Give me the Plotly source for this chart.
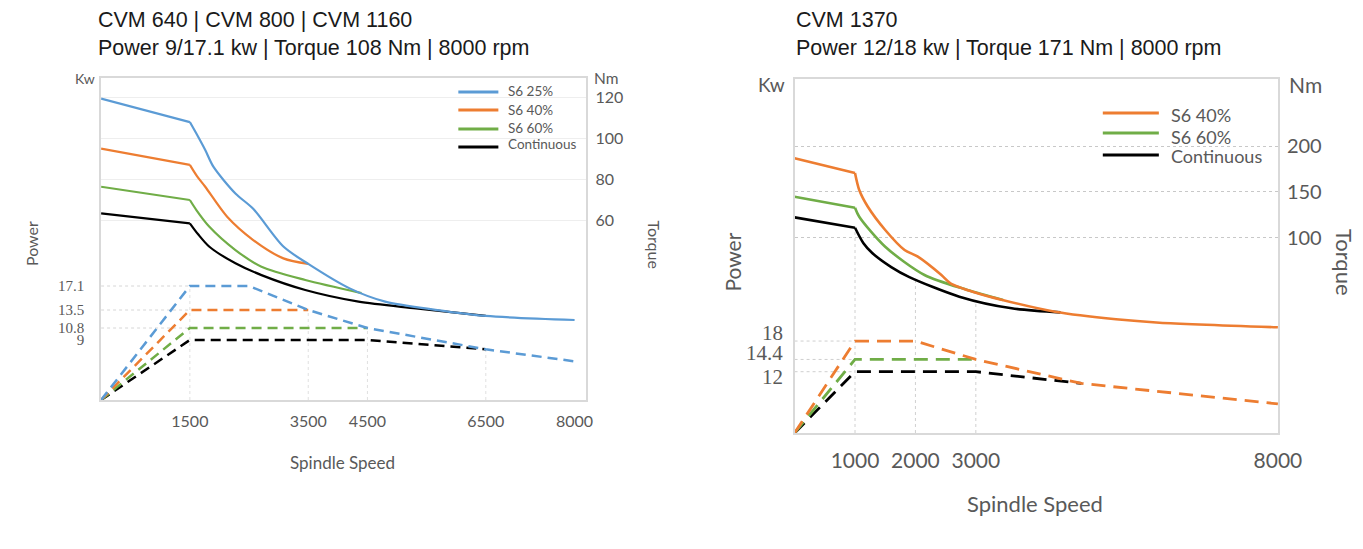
import numpy as np
import plotly.graph_objects as go

# reference picture size (all positions below are measured in these pixels)
W, H = 1363, 549
# the photographed page comes out ~1.8% narrower than the layout width, so the
# figure is laid out a bit wider to land on the reference positions
FIG_W = 1388

# ---------------- Left chart: CVM 640 | CVM 800 | CVM 1160 ----------------
L_NAMES = ["S6 25%", "S6 40%", "S6 60%", "Continuous"]
L_COLORS = ["#5b9bd5", "#ed7d31", "#70ad47", "#000000"]

# torque curves (rpm, Nm)
L25_TQ_RPM = [0, 1500, 1640, 1760, 1900, 2270, 2570, 3080, 3500, 4200, 4800, 5650, 6500, 8000]
L25_TQ = [119.5, 108, 100.8, 94.3, 86, 73, 65.5, 47, 38.5, 26.5, 20, 16, 13, 11]
L40_TQ_RPM = [0, 1500, 1620, 1760, 2130, 2570, 3080, 3500]
L40_TQ = [95, 87, 81.5, 76.3, 61.6, 50.2, 41.2, 38.5]
L60_TQ_RPM = [0, 1500, 1610, 1830, 2270, 2710, 3450, 4400]
L60_TQ = [76.3, 69.8, 64.9, 56.7, 45.3, 37.1, 30.6, 24.2]
LC_TQ_RPM = [0, 1500, 1640, 1830, 2270, 2710, 3450, 4350, 5320, 6500]
LC_TQ = [63.3, 58.4, 53, 46.9, 38.8, 33, 25.7, 20, 16.7, 13]

# power curves (rpm, kW)
L25_PW_RPM = [0, 1500, 2500, 3500, 4500, 6500, 8000]
L25_PW = [0, 17.1, 17.1, 13.5, 10.8, 7.6, 5.8]
L40_PW_RPM = [0, 1500, 3500]
L40_PW = [0, 13.5, 13.5]
L60_PW_RPM = [0, 1500, 4500]
L60_PW = [0, 10.8, 10.8]
LC_PW_RPM = [0, 1500, 4500, 6500]
LC_PW = [0, 9, 9, 7.6]

L_X_TICKS = [1500, 3500, 4500, 6500, 8000]
L_PW_TICKS = [9, 10.8, 13.5, 17.1]
L_TQ_TICKS = [60, 80, 100, 120]

# ---------------- Right chart: CVM 1370 ----------------
R_NAMES = ["S6 40%", "S6 60%", "Continuous"]
R_COLORS = ["#ed7d31", "#70ad47", "#000000"]

R40_TQ_RPM = [0, 1000, 1070, 1210, 1500, 1820, 2040, 2430, 2580, 3000, 3440, 4310, 5320, 6040, 8000]
R40_TQ = [186.6, 170.5, 152, 134, 108.4, 86.6, 79.3, 59.3, 50.3, 40, 32.1, 19.3, 11, 7.3, 2.3]
R60_TQ_RPM = [0, 1000, 1070, 1500, 2150, 2860, 3450]
R60_TQ = [144.7, 132.7, 122.9, 90.2, 59.3, 43, 32.1]
RC_TQ_RPM = [0, 1000, 1140, 1285, 1600, 1900, 2727, 3593, 4400]
RC_TQ = [122.2, 110.9, 94, 83.3, 68, 57, 35.7, 23, 18.6]

R40_PW_RPM = [0, 1000, 2000, 3000, 4750, 8000]
R40_PW = [0, 18, 18, 14.4, 9.7, 5.7]
R60_PW_RPM = [0, 1000, 3000]
R60_PW = [0, 14.4, 14.4]
RC_PW_RPM = [0, 1000, 3000, 4750]
RC_PW = [0, 12, 12, 9.7]

R_X_TICKS = [1000, 2000, 3000, 8000]
R_PW_TICKS = [12, 14.4, 18]
R_TQ_TICKS = [100, 150, 200]

TITLE_L = ["CVM 640 | CVM 800 | CVM 1160", "Power 9/17.1 kw | Torque 108 Nm | 8000 rpm"]
TITLE_R = ["CVM 1370", "Power 12/18 kw | Torque 171 Nm | 8000 rpm"]

# ---------------- helpers ----------------
def px(x):
    return x / W

def py(y):
    return 1 - y / H

GRAY = "#595959"
SANS = "Lato"
SERIF = "Liberation Serif"

fig = go.Figure()


def add_torque(x, y, xa, ya, color, width, name):
    # flat part up to the base-speed knee (index 1) drawn straight, falling part smoothed
    fig.add_trace(go.Scatter(x=x[:2], y=y[:2], xaxis=xa, yaxis=ya, mode="lines",
                             line=dict(color=color, width=width), name=name, showlegend=False))
    fig.add_trace(go.Scatter(x=x[1:], y=y[1:], xaxis=xa, yaxis=ya, mode="lines",
                             line=dict(color=color, width=width, shape="spline", smoothing=0.8),
                             name=name, showlegend=False))


l_tq = [(L25_TQ_RPM, L25_TQ), (L40_TQ_RPM, L40_TQ), (L60_TQ_RPM, L60_TQ), (LC_TQ_RPM, LC_TQ)]
l_pw = [(L25_PW_RPM, L25_PW), (L40_PW_RPM, L40_PW), (L60_PW_RPM, L60_PW), (LC_PW_RPM, LC_PW)]
for i in reversed(range(4)):
    fig.add_trace(go.Scatter(x=l_pw[i][0], y=l_pw[i][1], xaxis="x", yaxis="y", mode="lines",
                             line=dict(color=L_COLORS[i], width=2.5, dash="10px,6px"),
                             showlegend=False, hoverinfo="skip"))
for i in reversed(range(4)):
    add_torque(l_tq[i][0], l_tq[i][1], "x", "y2", L_COLORS[i], 2.2, L_NAMES[i])

r_tq = [(R40_TQ_RPM, R40_TQ), (R60_TQ_RPM, R60_TQ), (RC_TQ_RPM, RC_TQ)]
r_pw = [(R40_PW_RPM, R40_PW), (R60_PW_RPM, R60_PW), (RC_PW_RPM, RC_PW)]
for i in reversed(range(3)):
    fig.add_trace(go.Scatter(x=r_pw[i][0], y=r_pw[i][1], xaxis="x2", yaxis="y3", mode="lines",
                             line=dict(color=R_COLORS[i], width=2.8, dash="14px,8px"),
                             showlegend=False, hoverinfo="skip"))
for i in reversed(range(3)):
    add_torque(r_tq[i][0], r_tq[i][1], "x2", "y4", R_COLORS[i], 2.6, R_NAMES[i])

shapes = []
annotations = []

# Left reference lines
for v in L_PW_TICKS[1:]:
    shapes.append(dict(type="line", xref="x", yref="y", x0=0, x1=L25_PW_RPM[1], y0=v, y1=v,
                       line=dict(color="#d6d6d6", width=1, dash="dot"), layer="below"))
for r in L_X_TICKS[:-1]:
    shapes.append(dict(type="line", xref="x", yref="y", x0=r, x1=r, y0=0,
                       y1=float(np.interp(r, L25_PW_RPM, L25_PW)),
                       line=dict(color="#e0e0e0", width=1, dash="dot"), layer="below"))
# Right reference lines
for v in R_PW_TICKS:
    shapes.append(dict(type="line", xref="x2", yref="y3", x0=0, x1=R40_PW_RPM[1], y0=v, y1=v,
                       line=dict(color="#cfcfcf", width=1, dash="dot"), layer="below"))
for r in R_X_TICKS[:-1]:
    shapes.append(dict(type="line", xref="x2", yref="y4", x0=r, x1=r, y0=-113,
                       y1=float(np.interp(r, RC_TQ_RPM, RC_TQ)),
                       line=dict(color="#d0d0d0", width=1, dash="dot"), layer="below"))

# Legends (manual)
L_LEG_LINE_Y = [92, 110, 129, 147]
L_LEG_TEXT_Y = [91, 110, 128, 144]
for i, n in enumerate(L_NAMES):
    shapes.append(dict(type="line", xref="paper", yref="paper", x0=px(458), x1=px(498),
                       y0=py(L_LEG_LINE_Y[i]), y1=py(L_LEG_LINE_Y[i]),
                       line=dict(color=L_COLORS[i], width=3)))
    annotations.append(dict(text=n, xref="paper", yref="paper", x=px(506), y=py(L_LEG_TEXT_Y[i]),
                            xanchor="left", yanchor="middle", showarrow=False,
                            font=dict(family=SANS, size=13.5, color=GRAY)))
R_LEG_LINE_Y = [113, 133, 155]
R_LEG_TEXT_Y = [115, 137, 156]
for i, n in enumerate(R_NAMES):
    shapes.append(dict(type="line", xref="paper", yref="paper", x0=px(1102), x1=px(1158),
                       y0=py(R_LEG_LINE_Y[i]), y1=py(R_LEG_LINE_Y[i]),
                       line=dict(color=R_COLORS[i], width=3.2)))
    annotations.append(dict(text=n, xref="paper", yref="paper", x=px(1168), y=py(R_LEG_TEXT_Y[i]),
                            xanchor="left", yanchor="middle", showarrow=False,
                            font=dict(family=SANS, size=18, color=GRAY)))

# Right power tick labels as annotations (offset like the original)
R_PW_SHIFT = [-5, 6, 8]
for v, s in zip(R_PW_TICKS, R_PW_SHIFT):
    annotations.append(dict(text=f"{v:g}", xref="paper", yref="y3", x=px(784), y=v, yshift=s,
                            xanchor="right", yanchor="middle", showarrow=False,
                            font=dict(family=SERIF, size=21, color=GRAY)))

def ann(text, x, y, size, family=SANS, color=GRAY, angle=0, xanchor="center"):
    annotations.append(dict(text=text, xref="paper", yref="paper", x=px(x), y=py(y),
                            xanchor=xanchor, yanchor="middle", showarrow=False, textangle=angle,
                            font=dict(family=family, size=size, color=color)))

# Titles
TF = "Liberation Sans"
ann(TITLE_L[0], 96, 20, 21.5, family=TF, color="#1a1a1a", xanchor="left")
ann(TITLE_L[1], 96, 48, 21.5, family=TF, color="#1a1a1a", xanchor="left")
ann(TITLE_R[0], 793, 20, 21.5, family=TF, color="#1a1a1a", xanchor="left")
ann(TITLE_R[1], 793, 48, 21.5, family=TF, color="#1a1a1a", xanchor="left")

# Axis labels
ann("Kw", 85, 79, 14)
ann("Nm", 606, 78, 15.5)
ann("Power", 31, 244, 16, angle=-90)
ann("Torque", 655, 245, 16, angle=90)
ann("Spindle Speed", 342, 462, 17)
ann("Kw", 771, 85, 19)
ann("Nm", 1305, 85, 21)
ann("Power", 731, 262, 21, angle=-90)
ann("Torque", 1343, 263, 22, angle=90)
ann("Spindle Speed", 1034, 503, 22)

BORDER = "#d9d9d9"
fig.update_layout(
    width=FIG_W, height=H, autosize=False,
    margin=dict(l=0, r=0, t=0, b=0),
    paper_bgcolor="white", plot_bgcolor="white",
    showlegend=False,
    shapes=shapes, annotations=annotations,
    xaxis=dict(domain=[px(101), px(586)], range=[0, 8200], anchor="y",
               tickvals=L_X_TICKS, showgrid=False, zeroline=False,
               showline=True, mirror=True, linecolor=BORDER, linewidth=1.5,
               tickfont=dict(family=SANS, size=16, color=GRAY), ticklabelstandoff=6),
    yaxis=dict(domain=[py(400), py(78)], range=[0, 48.3], anchor="x",
               tickvals=L_PW_TICKS, ticktext=[f"{v:g}" for v in L_PW_TICKS],
               showgrid=False, zeroline=False,
               showline=True, mirror=True, linecolor=BORDER, linewidth=1.5,
               tickfont=dict(family=SERIF, size=15, color=GRAY), ticklabelstandoff=12),
    yaxis2=dict(overlaying="y", side="right", anchor="x", range=[-28.2, 129.6],
                tickvals=L_TQ_TICKS, showgrid=True, gridcolor="#eeeeee", gridwidth=1,
                zeroline=False, showline=False,
                tickfont=dict(family=SANS, size=16, color=GRAY), ticklabelstandoff=8),
    xaxis2=dict(domain=[px(794), px(1277)], range=[0, 8000], anchor="y3",
                tickvals=R_X_TICKS, showgrid=False, zeroline=False,
                showline=True, mirror=True, linecolor=BORDER, linewidth=1.5,
                tickfont=dict(family=SANS, size=21, color=GRAY), ticklabelstandoff=8),
    yaxis3=dict(domain=[py(433), py(79)], range=[0, 69.3], anchor="x2",
                tickvals=R_PW_TICKS, showticklabels=False,
                showgrid=False, zeroline=False,
                showline=True, mirror=True, linecolor=BORDER, linewidth=1.5),
    yaxis4=dict(overlaying="y3", side="right", anchor="x2", range=[-113, 273.1],
                tickvals=R_TQ_TICKS, showgrid=True, gridcolor="#c8c8c8", griddash="dot",
                gridwidth=1, zeroline=False, showline=False,
                tickfont=dict(family=SANS, size=20, color=GRAY), ticklabelstandoff=8),
)

fig.write_html(
    "out.html",
    config={"displayModeBar": False},
    post_script=("document.documentElement.style.margin='0';"
                 "document.documentElement.style.overflow='hidden';"
                 "document.body.style.margin='0';document.body.style.padding='0';"
                 "document.body.style.overflow='hidden';"),
)
